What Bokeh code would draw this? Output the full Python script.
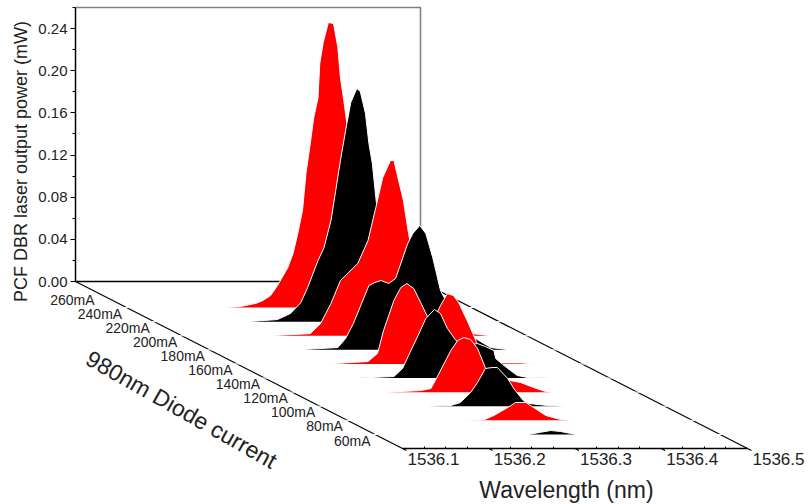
from bokeh.plotting import figure
from bokeh.embed import file_html
from bokeh.resources import INLINE
from bokeh.models import (LinearAxis, Range1d, FixedTicker, SingleIntervalTicker,
                          NumeralTickFormatter, Label)
from bokeh.core.properties import value

FONT = "Liberation Sans"
INK = "#222222"

# --- data: (wavelength nm, power mW), back to front ---
currents = [260, 240, 220, 200, 180, 160, 140, 120, 100, 80]
colors = ["#ff0000", "#000000"] * 5
current_labels = [260, 240, 220, 200, 180, 160, 140, 120, 100, 80, 60]

wl_260 = [1536.09,1536.213,1536.232,1536.250,1536.258,1536.267,1536.275,1536.287,1536.293,1536.298,1536.304,1536.308,1536.313,1536.317,1536.322,1536.324,1536.328,1536.334,1536.340,1536.345,1536.348,1536.352,1536.355,1536.366,1536.377,1536.395,1536.418,1536.453,1536.51]
p_260 = [0,0,.001,.004,.0066,.0114,.0209,.038,.0512,.0683,.092,.127,.1556,.180,.199,.2315,.2515,.2705,.2695,.2467,.218,.196,.1775,.130,.0636,.021,.004,0,0]
wl_240 = [1536.09,1536.208,1536.243,1536.258,1536.270,1536.278,1536.290,1536.297,1536.305,1536.310,1536.316,1536.322,1536.328,1536.335,1536.339,1536.345,1536.349,1536.353,1536.357,1536.363,1536.374,1536.397,1536.432,1536.455,1536.51]
p_240 = [0,0,.002,.0077,.018,.0324,.058,.0703,.096,.1216,.153,.1814,.208,.2212,.2184,.1975,.169,.150,.1178,.077,.034,.0106,.001,0,0]
wl_220 = [1536.09,1536.200,1536.249,1536.261,1536.273,1536.284,1536.304,1536.316,1536.325,1536.333,1536.342,1536.346,1536.352,1536.357,1536.363,1536.371,1536.383,1536.400,1536.418,1536.438,1536.458,1536.51]
p_220 = [0,0,.002,.0116,.0306,.0524,.0685,.0904,.1217,.150,.1663,.1663,.1454,.1283,.097,.062,.038,.0144,.005,.002,0,0]
wl_200 = [1536.09,1536.202,1536.249,1536.258,1536.267,1536.285,1536.292,1536.299,1536.308,1536.316,1536.330,1536.336,1536.344,1536.351,1536.359,1536.368,1536.386,1536.403,1536.426,1536.449,1536.51]
p_200 = [0,0,.0022,.0107,.025,.061,.0639,.0658,.063,.0677,.1009,.1104,.118,.1104,.0876,.0563,.0278,.0136,.0022,0,0]
wl_180 = [1536.09,1536.205,1536.252,1536.263,1536.270,1536.282,1536.290,1536.297,1536.305,1536.313,1536.322,1536.330,1536.336,1536.344,1536.351,1536.357,1536.368,1536.378,1536.392,1536.409,1536.429,1536.448,1536.51]
p_180 = [0,0,.0023,.0099,.0317,.0602,.0725,.0763,.0716,.0583,.0431,.045,.0554,.0668,.0649,.0583,.0393,.0203,.0051,.001,.001,0,0]
wl_160 = [1536.09,1536.208,1536.250,1536.260,1536.267,1536.278,1536.287,1536.297,1536.304,1536.312,1536.322,1536.330,1536.339,1536.347,1536.356,1536.366,1536.368,1536.382,1536.393,1536.405,1536.432,1536.51]
p_160 = [0,0,.0014,.009,.0214,.0403,.0565,.065,.0612,.047,.0356,.0308,.0318,.0327,.0299,.0261,.0185,.009,.0024,.0005,0,0]
wl_140 = [1536.09,1536.211,1536.249,1536.261,1536.266,1536.275,1536.284,1536.292,1536.299,1536.307,1536.315,1536.324,1536.336,1536.353,1536.365,1536.380,1536.392,1536.400,1536.51]
p_140 = [0,0,.0015,.0034,.011,.0252,.0395,.049,.0518,.0499,.0414,.0233,.0129,.011,.0091,.0044,.001,0,0]
wl_120 = [1536.09,1536.225,1536.252,1536.263,1536.275,1536.283,1536.292,1536.300,1536.306,1536.318,1536.325,1536.336,1536.342,1536.364,1536.383,1536.51]
p_120 = [0,0,.0007,.0035,.013,.0225,.0358,.0367,.0367,.0263,.0168,.0054,.0026,.0007,0,0]
wl_100 = [1536.09,1536.225,1536.258,1536.270,1536.286,1536.295,1536.307,1536.316,1536.330,1536.347,1536.359,1536.51]
p_100 = [0,0,.0003,.0046,.0121,.0169,.0169,.0121,.0046,.0008,0,0]
wl_80 = [1536.09,1536.278,1536.292,1536.304,1536.315,1536.333,1536.51]
p_80 = [0,0,.002,.0037,.0028,0,0]

wavelengths = [wl_260, wl_240, wl_220, wl_200, wl_180, wl_160, wl_140, wl_120, wl_100, wl_80]
powers = [p_260, p_240, p_220, p_200, p_180, p_160, p_140, p_120, p_100, p_80]

wl_ticks = [1536.1, 1536.2, 1536.3, 1536.4, 1536.5]
wl_minor = [1536.125, 1536.15, 1536.175, 1536.225, 1536.25, 1536.275,
            1536.325, 1536.35, 1536.375, 1536.425, 1536.45, 1536.475]

# --- oblique projection of the floor onto the back plane ---
WIDTH, HEIGHT = 808, 504
PX_NM = 862.5
PX_MW = 1054.0
DX = 327 / PX_NM
DY = -167 / PX_MW
I_BACK, I_FRONT = 297.0, 60.0


def depth(i):
    return (I_BACK - i) / (I_BACK - I_FRONT)


x0 = 1536.1 - 75 / PX_NM
y_top = 281 / PX_MW
xr = Range1d(x0, x0 + WIDTH / PX_NM)
yr = Range1d(y_top - HEIGHT / PX_MW, y_top)

p = figure(width=WIDTH, height=HEIGHT, x_range=xr, y_range=yr,
           x_axis_type=None, y_axis_type=None, toolbar_location=None,
           output_backend="svg", min_border=0, outline_line_color=None,
           background_fill_color="white", border_fill_color="white")
p.grid.visible = False

# back plane
p.line([1536.1, 1536.5, 1536.5], [0.26, 0.26, 0.0], line_color="#808080", line_width=1.6)
p.line([1536.1, 1536.5], [0, 0], line_color="black", line_width=1.3)
# floor edges
p.line([1536.1, 1536.1 + DX], [0, DY], line_color="black", line_width=1.2)
p.line([1536.5, 1536.5 + DX], [0, DY], line_color="black", line_width=1.2)

# curves, back to front
for cur, col, w, v in zip(currents, colors, wavelengths, powers):
    d = depth(cur)
    xs = [a + DX * d for a in w]
    ys = [b + DY * d for b in v]
    p.patch(xs, ys, fill_color=col, line_color=None)
    p.line(xs, ys, line_color="white", line_width=1.0)

# vertical axis on the back plane
yax = LinearAxis(fixed_location=1536.1, bounds=(0, 0.26),
                 ticker=SingleIntervalTicker(interval=0.04, num_minor_ticks=2),
                 formatter=NumeralTickFormatter(format="0.00"))
yax.axis_line_color = "black"
yax.axis_line_width = 1.5
yax.major_tick_in = 0
yax.major_tick_out = 5
yax.minor_tick_in = 0
yax.minor_tick_out = 3
yax.major_label_text_font = FONT
yax.major_label_text_font_size = "15px"
yax.major_label_text_color = INK
yax.major_label_standoff = 3
p.add_layout(yax, "left")

# wavelength axis along the front of the floor
p.extra_x_ranges["front"] = Range1d(xr.start - DX, xr.end - DX)
LABEL_SHIFT = 31 / PX_NM
p.extra_x_ranges["front_labels"] = Range1d(xr.start - DX - LABEL_SHIFT, xr.end - DX - LABEL_SHIFT)

xax = LinearAxis(x_range_name="front", fixed_location=DY, bounds=(1536.1, 1536.5),
                 ticker=FixedTicker(ticks=wl_ticks, minor_ticks=wl_minor))
xax.axis_line_color = "black"
xax.axis_line_width = 1.3
xax.major_tick_in = 0
xax.major_tick_out = 0
xax.minor_tick_in = 2
xax.minor_tick_out = 0
xax.major_label_text_font_size = "0px"
xax.major_label_text_color = None
p.add_layout(xax, "below")

xlab = LinearAxis(x_range_name="front_labels", fixed_location=DY + 5 / PX_MW,
                  ticker=FixedTicker(ticks=wl_ticks),
                  formatter=NumeralTickFormatter(format="0.0"))
xlab.axis_line_color = None
xlab.major_tick_line_color = None
xlab.minor_tick_line_color = None
xlab.major_label_text_font = FONT
xlab.major_label_text_font_size = "17px"
xlab.major_label_text_color = INK
xlab.major_label_standoff = 3
p.add_layout(xlab, "below")

# slanted major ticks of the floor
p.segment([t + DX for t in wl_ticks], [DY] * 5,
          [t + DX * 1.012 for t in wl_ticks], [DY * 1.012] * 5,
          line_color="black", line_width=1.2)

# current labels along the floor edge
p.text([1536.1 + DX * depth(i) for i in current_labels],
       [DY * depth(i) for i in current_labels],
       text=[f"{i}mA" for i in current_labels],
       x_offset=-32, y_offset=-8, text_align="right", text_baseline="middle",
       text_font=value(FONT), text_font_size="14px", text_color=INK)


def title(text, sx, sy, size, angle):
    p.add_layout(Label(x=sx, y=HEIGHT - sy, x_units="screen", y_units="screen",
                       text=text, text_font=FONT, text_font_size=size,
                       text_color=INK, text_align="center", text_baseline="middle",
                       angle=angle, angle_units="deg"))


title("PCF DBR laser output power (mW)", 20, 161, "18px", 90)
title("Wavelength (nm)", 566, 489.5, "23px", 0)
title("980nm Diode current", 181, 409, "23px", -29.5)

open("out.html", "w").write(file_html(p, INLINE))
